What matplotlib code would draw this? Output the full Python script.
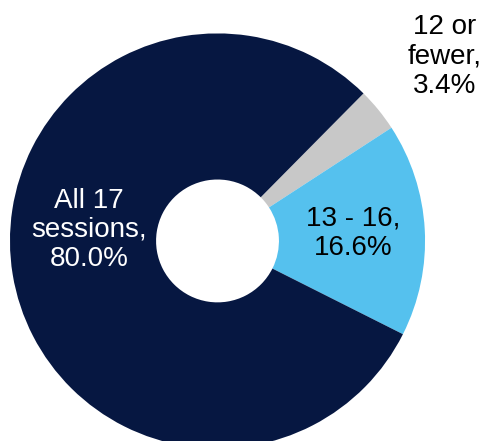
import matplotlib.pyplot as plt

plt.rcParams['font.family'] = ['Liberation Sans', 'DejaVu Sans']

# share of students by number of sessions attended
groups = ['12 or\nfewer', '13 - 16', 'All 17\nsessions']
shares = [3.4, 16.6, 80.0]
colours = ['#c8c8c8', '#55c1ee', '#061741']
text_colours = ['black', 'black', 'white']
label_pos = [(1.096, 0.887), (0.653, 0.039), (-0.619, 0.053)]

fig = plt.figure(figsize=(4.84, 4.41), dpi=100)
ax = fig.add_axes([0, 0, 1, 1])

ax.pie(shares, colors=colours, startangle=45.3, counterclock=False,
       radius=1.0, wedgeprops=dict(width=0.704, linewidth=0))

for g, s, tc, (x, y) in zip(groups, shares, text_colours, label_pos):
    ax.text(x, y, f'{g},\n{s:.1f}%', ha='center', va='center',
            fontsize=20, color=tc, linespacing=1.17)

ax.set_aspect('auto')
ax.set_xlim(-1.048, 1.284)
ax.set_ylim(-0.964, 1.161)
ax.axis('off')

fig.savefig('out.png', dpi=100)
